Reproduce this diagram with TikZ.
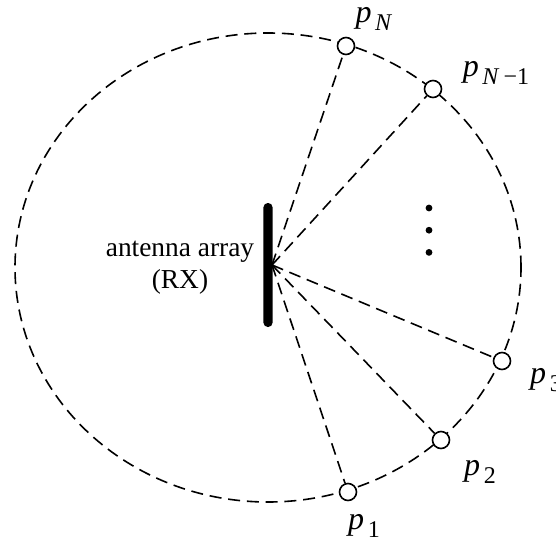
\documentclass[tikz,border=0pt]{standalone}
\usepackage{fontspec}
\setmainfont{Liberation Serif}
\usepackage{tikz}
\usetikzlibrary{positioning}

\newcommand{\psub}[1]{\textit{p}\hspace{1.8pt}\raisebox{-3.8pt}{\fontsize{12}{12}\selectfont #1}}

\begin{document}
\begin{tikzpicture}[x=0.5pt,y=-0.5pt,
  dashline/.style={dash pattern=on 6pt off 3.4pt,line width=0.8pt},
  sensor/.style={draw,circle,fill=white,line width=0.8pt,minimum size=8.5pt,inner sep=0pt},
  dotnode/.style={circle,fill=black,minimum size=3.4pt,inner sep=0pt},
  lbl/.style={font=\fontsize{13.7}{16}\selectfont},
  plbl/.style={font=\fontsize{16}{17}\selectfont,inner sep=0pt}
]
\useasboundingbox (0,0) rectangle (556,540);
\draw[dashline] (268,267.5) ellipse [x radius=126.5pt,y radius=117.25pt];
% receiver
\node[fill=black,rounded corners=2.2pt,minimum width=4.6pt,minimum height=62pt,inner sep=0pt] (array) at (268,265) {};
\coordinate (rx) at (272,265);
\node[lbl,align=center] (rxlabel) at (180,268) {antenna array\\(RX)};
% positions on the circle
\node[sensor] (pN) at (346,46) {};
\node[sensor] (pNm) at (433,89) {};
\node[sensor] (p3) at (502,361) {};
\node[sensor] (p2) at (441,440) {};
\node[sensor] (p1) at (348,492) {};
\foreach \p in {pN,pNm,p3,p2,p1}
  \draw[dashline] (rx) -- (\p);
\node[plbl] (lN) at (374,19) {\psub{\textit{N}}};
\node[plbl] (lNm) at (496,73) {\psub{\textit{N}\,−1}};
\node[plbl] (l3) at (546,380) {\psub{3}};
\node[plbl] (l2) at (480,472) {\psub{2}};
\node[plbl] (l1) at (364,526) {\psub{1}};
% dots
\node[dotnode] (d1) at (429,208) {};
\node[dotnode,below=7.3pt of d1] (d2) {};
\node[dotnode,below=7.3pt of d2] (d3) {};
\end{tikzpicture}
\end{document}
